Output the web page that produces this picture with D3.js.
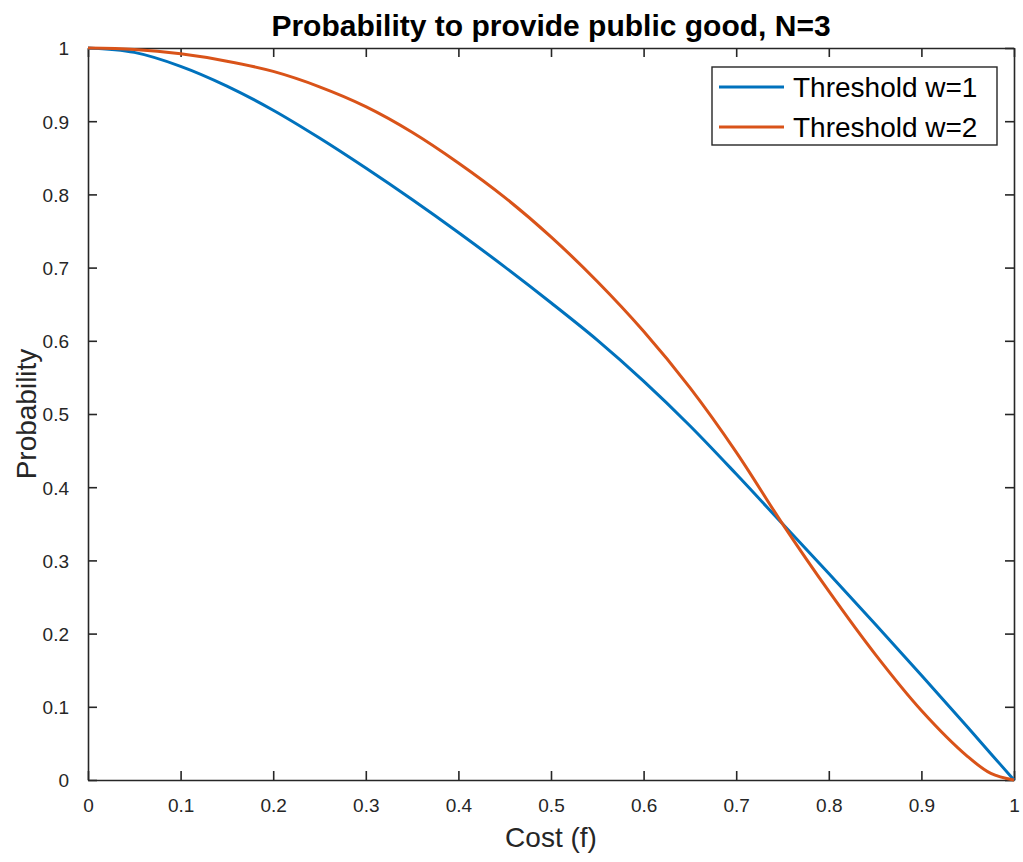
<!DOCTYPE html>
<html>
<head>
<meta charset="utf-8">
<script src="https://cdn.jsdelivr.net/npm/d3@7"></script>
<style>
  body { margin: 0; background: #fff; }
  svg { display: block; font-family: "Liberation Sans", Arial, Helvetica, sans-serif; }
  .axis path, .axis line { stroke: #262626; }
  .axis text { fill: #262626; }
</style>
</head>
<body>
<div id="chart"></div>
<script>
// values
const cost = [0, 0.05, 0.1, 0.15, 0.2, 0.25, 0.3, 0.35, 0.4, 0.45, 0.5, 0.55, 0.6, 0.65, 0.7, 0.75, 0.8, 0.85, 0.9, 0.95, 0.975, 1];
const probW1 = [1, 0.994, 0.975, 0.948, 0.915, 0.877, 0.836, 0.793, 0.748, 0.701, 0.652, 0.601, 0.545, 0.484, 0.418, 0.35, 0.282, 0.213, 0.143, 0.072, 0.036, 0];
const probW2 = [1, 0.998, 0.992, 0.982, 0.968, 0.947, 0.92, 0.885, 0.843, 0.796, 0.742, 0.681, 0.613, 0.536, 0.448, 0.35, 0.258, 0.172, 0.095, 0.032, 0.009, 0];
const seriesNames = ['Threshold w=1', 'Threshold w=2'];
const seriesColors = ['#0072BD', '#D95319'];
const xTicks = [0, 0.1, 0.2, 0.3, 0.4, 0.5, 0.6, 0.7, 0.8, 0.9, 1];
const yTicks = [0, 0.1, 0.2, 0.3, 0.4, 0.5, 0.6, 0.7, 0.8, 0.9, 1];

function main() {
  const svgWidth = 1023;
  const svgHeight = 862;

  const margin = { top: 48, bottom: 82, left: 88, right: 9 };
  const chartWidth = svgWidth - margin.left - margin.right;
  const chartHeight = svgHeight - margin.top - margin.bottom;

  const svg = d3.select('#chart').append('svg')
    .attr('width', svgWidth)
    .attr('height', svgHeight);

  const chartGroup = svg.append('g')
    .attr('transform', `translate(${margin.left}, ${margin.top})`);

  const xScale = d3.scaleLinear().domain([0, 1]).range([0, chartWidth]);
  const yScale = d3.scaleLinear().domain([0, 1]).range([chartHeight, 0]);

  const fmt = d => d3.format('')(+d.toFixed(1));
  const tickLen = 9;

  // bottom / left axes with inward ticks (matlab style)
  const bottomAxis = d3.axisBottom(xScale).tickValues(xTicks).tickFormat(fmt).tickSizeInner(-tickLen).tickSizeOuter(0).tickPadding(19);
  const leftAxis = d3.axisLeft(yScale).tickValues(yTicks).tickFormat(fmt).tickSizeInner(-tickLen).tickSizeOuter(0).tickPadding(19);
  const topAxis = d3.axisTop(xScale).tickValues(xTicks).tickFormat('').tickSizeInner(-tickLen).tickSizeOuter(0);
  const rightAxis = d3.axisRight(yScale).tickValues(yTicks).tickFormat('').tickSizeInner(-tickLen).tickSizeOuter(0);

  const xAxis = chartGroup.append('g').classed('axis', true)
    .attr('transform', `translate(0, ${chartHeight})`).call(bottomAxis);
  const yAxis = chartGroup.append('g').classed('axis', true).call(leftAxis);
  chartGroup.append('g').classed('axis', true).call(topAxis);
  chartGroup.append('g').classed('axis', true)
    .attr('transform', `translate(${chartWidth}, 0)`).call(rightAxis);

  chartGroup.selectAll('.axis path').attr('stroke-width', 1.6);
  chartGroup.selectAll('.axis line').attr('stroke-width', 1.6);
  xAxis.selectAll('text').attr('font-size', '19px').attr('font-family', null);
  yAxis.selectAll('text').attr('font-size', '19px').attr('font-family', null).attr('dy', '0.36em');

  // curves
  const line = d3.line()
    .x(d => xScale(d[0]))
    .y(d => yScale(d[1]))
    .curve(d3.curveCatmullRom.alpha(0.5));

  const seriesData = [probW1, probW2].map(vals => cost.map((c, i) => [c, vals[i]]));

  chartGroup.selectAll('.curve')
    .data(seriesData)
    .enter()
    .append('path')
    .classed('curve', true)
    .attr('d', line)
    .attr('fill', 'none')
    .attr('stroke', (d, i) => seriesColors[i])
    .attr('stroke-width', 3);

  // title and labels
  svg.append('text')
    .attr('x', margin.left + chartWidth / 2)
    .attr('y', 36)
    .attr('text-anchor', 'middle')
    .attr('font-size', '30px')
    .attr('font-weight', 'bold')
    .attr('fill', '#000')
    .text('Probability to provide public good, N=3');

  svg.append('text')
    .attr('x', margin.left + chartWidth / 2)
    .attr('y', 847)
    .attr('text-anchor', 'middle')
    .attr('font-size', '28px')
    .attr('fill', '#262626')
    .text('Cost (f)');

  svg.append('text')
    .attr('transform', `translate(36, ${margin.top + chartHeight / 2}) rotate(-90)`)
    .attr('text-anchor', 'middle')
    .attr('font-size', '28px')
    .attr('fill', '#262626')
    .text('Probability');

  // legend
  const legend = svg.append('g').attr('transform', 'translate(712, 67)');
  legend.append('rect')
    .attr('width', 285)
    .attr('height', 78)
    .attr('fill', '#fff')
    .attr('stroke', '#262626')
    .attr('stroke-width', 1.4);

  const rows = legend.selectAll('.legendRow')
    .data(seriesNames)
    .enter()
    .append('g')
    .classed('legendRow', true)
    .attr('transform', (d, i) => `translate(0, ${20 + i * 40})`);

  rows.append('line')
    .attr('x1', 7).attr('x2', 72)
    .attr('y1', 0).attr('y2', 0)
    .attr('stroke', (d, i) => seriesColors[i])
    .attr('stroke-width', 3);

  rows.append('text')
    .attr('x', 81)
    .attr('y', 10)
    .attr('font-size', '28px')
    .attr('fill', '#000')
    .text(d => d);
}

main();
</script>
</body>
</html>
